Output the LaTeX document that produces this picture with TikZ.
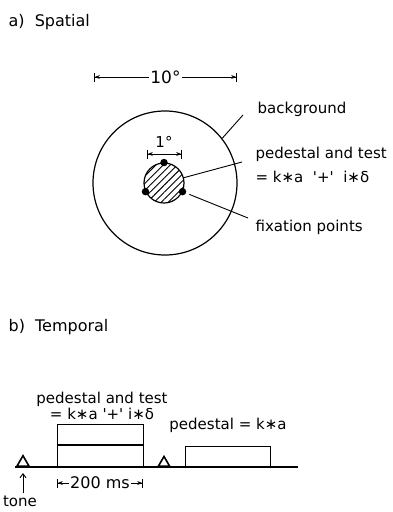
\documentclass[tikz,border=0pt]{standalone}
\usepackage{fontspec}
\setmainfont{DejaVu Sans}
\usetikzlibrary{arrows.meta,positioning,calc,shapes.geometric,patterns.meta}

\begin{document}
\begin{tikzpicture}[x=1pt,y=-1pt,line width=1.2pt,
  font=\fontsize{15}{16}\selectfont,>={Straight Barb[length=4pt,width=6pt]},
  lbl/.style={inner sep=0pt,anchor=west},
  head/.style={lbl,font=\fontsize{16}{18}\selectfont},
  leader/.style={line width=0.9pt},
  dim/.style={line width=0.8pt,
    {Bar[width=9pt]Stealth[length=5pt,width=4pt]}-{Stealth[length=5pt,width=4pt]Bar[width=9pt]}},
  dimtxt/.style={fill=white,inner sep=1.5pt},
  dot/.style={circle,fill,inner sep=0pt,minimum size=7.5pt},
  tri/.style={draw,line width=1.6pt,regular polygon,regular polygon sides=3,
    inner sep=0pt,minimum size=14pt,anchor=south},
  pulse/.style={draw,inner sep=0pt,minimum width=86pt,anchor=south west}]
\useasboundingbox (0,0) rectangle (393,512);
% a) spatial layout of the field
\node[head] (ta) at (8,22) {a)\ \ Spatial};
\node[draw,circle,inner sep=0pt,minimum size=144pt] (bg) at (165,183) {};
\node[draw,circle,inner sep=0pt,minimum size=40pt,
  pattern={Lines[angle=45,distance=5pt,line width=0.9pt]}] (ped) at (164,183) {};
\foreach \a/\n in {90/1,205/2,335/3}
  \node[dot] (fx\n) at (ped.\a) {};
% dimensions
\coordinate (d10l) at (94,77); \coordinate (d10r) at (237,77);
\draw[dim] (d10l) -- node[dimtxt,font=\fontsize{17}{18}\selectfont] (d10) {10°} (d10r);
\coordinate (d1l) at (147,154); \coordinate (d1r) at (182,154);
\draw[dim] (d1l) -- (d1r);
\node[inner sep=0pt] (d1) at (164,142) {1°};
% labels with leaders
\node[lbl] (bgt) at (257,109) {background};
\node[lbl,align=left,font=\fontsize{15}{24}\selectfont] (pedt) at (255,165)
  {pedestal and test\\= k∗a \ \textquotesingle+\textquotesingle\ \ i∗δ};
\node[lbl] (fxt) at (255,227) {fixation points};
\draw[leader] (bg.38) -- ([shift={(-14,6)}]bgt.west);
\draw[leader] (ped.15) -- ([shift={(-13,-3)}]pedt.west);
\draw[leader,shorten <=3pt] (fx3) -- ([shift={(-7,-9)}]fxt.west);
% b) temporal sequence
\node[head] (tb) at (8,327) {b)\ \ Temporal};
\coordinate (t0) at (15,467); \coordinate (t1) at (298,467);
\draw (t0) -- (t1);
\node[tri] (tone1) at (23,467) {};
\node[tri,minimum size=13pt] (tone2) at (164,467) {};
\node[pulse,minimum height=21pt] (p1) at (57,467) {};
\node[pulse,minimum height=20pt] (tst) at (p1.north west) {};
\node[pulse,minimum width=85pt,minimum height=20pt] (p2) at (185,467) {};
\node[inner sep=0pt] (tn) at (20,501) {tone};
\draw[->,leader,shorten <=2pt,shorten >=6pt] (tn.north -| tone1.south) -- (tone1.south);
\coordinate (ms0) at (57,483); \coordinate (ms1) at (143,483);
\draw[dim] (ms0) -- node[dimtxt,font=\fontsize{16}{18}\selectfont] (ms) {200 ms} (ms1);
\node[align=center] (ptl) at (102,406)
  {pedestal and test\\= k∗a \textquotesingle+\textquotesingle\ i∗δ};
\node (p2l) at (228,425) {pedestal = k∗a};
\end{tikzpicture}
\end{document}
